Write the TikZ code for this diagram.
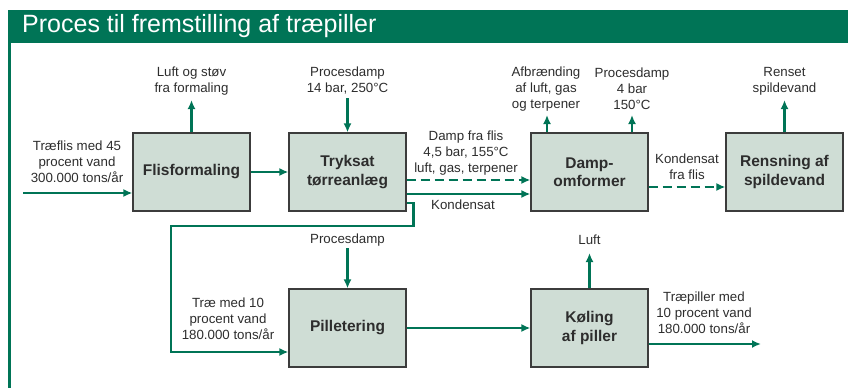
\documentclass[tikz,border=0pt]{standalone}
\usepackage{fontspec}
\setmainfont{Liberation Sans}
\usepackage{tikz}
\usetikzlibrary{arrows.meta,positioning}
\definecolor{procgreen}{RGB}{0,116,86}
\definecolor{boxfill}{RGB}{207,221,213}
\definecolor{boxline}{RGB}{60,60,60}
\definecolor{txtgray}{RGB}{45,45,45}
\tikzset{
  basic/.style  = {draw=boxline, line width=1.2pt, fill=boxfill, rectangle,
                   minimum width=117pt, minimum height=78pt, inner sep=0pt},
  procbox/.style = {basic, align=center, text=txtgray,
                   font=\fontsize{15.5}{18.5}\selectfont\bfseries},
  note/.style   = {align=center, text=txtgray, inner sep=0pt,
                   font=\fontsize{13.3}{16}\selectfont},
  flow/.style   = {draw=procgreen, line width=2.3pt,
                   -{Latex[length=9pt,width=8pt]}},
  gasflow/.style = {flow, dash pattern=on 9pt off 5pt}
}
\begin{document}
\begin{tikzpicture}[x=1pt,y=-1pt]
\useasboundingbox (0,0) rectangle (848,388);
% header and frame
\fill[procgreen] (8,10) rectangle (848,43);
\node[anchor=west, text=white, inner sep=0pt, font=\fontsize{25}{30}\selectfont]
  (title) at (22,26.5) {Proces til fremstilling af træpiller};
\draw[procgreen, line width=3pt] (9.8,43) -- (9.8,388);

% process boxes
\node[procbox] (flis) at (191.5,172) {Flisformaling};
\node[procbox] (tryk) at (347.5,172) {Tryksat\\tørreanlæg};
\node[procbox] (damp) at (589.5,172) {Damp-\\omformer};
\node[procbox] (rens) at (784.5,172) {Rensning af\\spildevand};
\node[procbox] (pill) at (347.5,328) {Pilletering};
\node[procbox] (kol)  at (589.5,328) {Køling\\af piller};

% free ends
\coordinate (indflis) at (23,193);
\coordinate (stov) at (191.5,100);
\coordinate (damp14) at (347.5,98);
\coordinate (afbr) at (547,115);
\coordinate (damp4) at (632,115);
\coordinate (renset) at (784.5,100);
\coordinate (damplav) at (347.5,248);
\coordinate (luft) at (589.5,253);
\coordinate (ud) at (761,344);

% labels
\node[note] (l1) at (77,162) {Træflis med 45\\procent vand\\300.000 tons/år};
\node[note] (l2) at (191.5,81) {Luft og støv\\fra formaling};
\node[note] (l3) at (347.5,81) {Procesdamp\\14 bar, 250°C};
\node[note] (l4) at (466,153) {Damp fra flis\\4,5 bar, 155°C\\luft, gas, terpener};
\node[note] (l5) at (463,205) {Kondensat};
\node[note] (l6) at (546,89) {Afbrænding\\af luft, gas\\og terpener};
\node[note] (l7) at (632,89) {Procesdamp\\4 bar\\150°C};
\node[note] (l8) at (687,167) {Kondensat\\fra flis};
\node[note] (l9) at (784.5,81) {Renset\\spildevand};
\node[note] (l10) at (347.5,240) {Procesdamp};
\node[note] (l11) at (589.5,240) {Luft};
\node[note] (l12) at (228,319) {Træ med 10\\procent vand\\180.000 tons/år};
\node[note] (l13) at (704,313) {Træpiller med\\10 procent vand\\180.000 tons/år};

% connectors
\draw[flow] (indflis) -- (indflis -| flis.west);
\draw[flow] (flis.north) -- (stov);
\draw[flow] (damp14) -- (tryk.north);
\draw[flow] (flis.east) -- (tryk.west);
\draw[gasflow] ([yshift=-8pt]tryk.east) -- ([yshift=-8pt]damp.west);
\draw[flow] ([yshift=-22pt]tryk.east) -- ([yshift=-22pt]damp.west);
\draw[flow] (damp.north -| afbr) -- (afbr);
\draw[flow] (damp.north -| damp4) -- (damp4);
\draw[gasflow] ([yshift=-15pt]damp.east) -- ([yshift=-15pt]rens.west);
\draw[flow] (rens.north) -- (renset);
\draw[flow] ([yshift=-31pt]tryk.east) -- ++(7,0) |- (171,226)
  |- ([yshift=-24pt]pill.west);
\draw[flow] (damplav) -- (pill.north);
\draw[flow] (pill.east) -- (kol.west);
\draw[flow] (kol.north) -- (luft);
\draw[flow] ([yshift=-16pt]kol.east) -- (ud);
\end{tikzpicture}
\end{document}
